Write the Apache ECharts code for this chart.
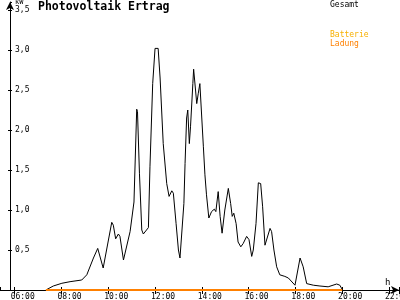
<!DOCTYPE html>
<html><head><meta charset="utf-8">
<script src="https://cdn.jsdelivr.net/npm/echarts@6/dist/echarts.min.js"></script>
<style>html,body{margin:0;padding:0;background:#fff}#c{width:400px;height:300px}</style>
</head><body><div id="c"></div>
<script>
const times = ['07:20','07:39','08:01','08:22','08:52','09:05','09:22','09:33','09:37','09:47','09:52',
 '10:09','10:13','10:19','10:26','10:30','10:39','10:56','11:00','11:06','11:13','11:15','11:20','11:26','11:30','11:43','11:47','11:54',
 '12:00','12:08','12:13','12:21','12:30','12:36','12:43','12:47','12:54','13:00','13:04','13:07','13:14','13:17','13:21','13:24','13:28','13:31','13:37','13:39','13:42','13:47','13:51','13:55',
 '14:00','14:04','14:08','14:12','14:18','14:25','14:32','14:36','14:42','14:47','14:52','14:59','15:08','15:14','15:18','15:22','15:28','15:33','15:40','15:46','15:55',
 '16:01','16:08','16:12','16:19','16:25','16:31','16:36','16:42','16:46','16:55','16:59','17:05','17:12','17:20','17:33','17:42','17:59',
 '18:03','18:12','18:16','18:20','18:29','18:46','19:03','19:24','19:46','19:54','20:01'];
const gesamt = [0,0.05,0.084,0.104,0.125,0.19,0.40,0.52,0.51,0.275,0.29,
 0.846,0.81,0.64,0.70,0.67,0.375,0.73,0.74,1.10,2.26,2.23,1.46,0.75,0.70,0.78,1.54,2.58,
 3.02,3.02,2.65,1.83,1.33,1.17,1.24,1.21,0.83,0.50,0.40,0.40,1.08,1.58,2.15,2.25,1.83,2.04,2.58,2.76,2.60,2.33,2.46,2.58,
 2.59,1.79,1.44,1.19,0.90,0.98,1.01,0.98,1.23,0.92,0.71,1.00,1.27,1.08,0.92,0.96,0.83,0.60,0.54,0.58,0.67,
 0.63,0.42,0.50,0.83,1.34,1.33,1.04,0.56,0.58,0.77,0.73,0.50,0.29,0.19,0.17,0.15,0.06,
 0.08,0.40,0.40,0.29,0.08,0.06,0.05,0.04,0.075,0.06,0];
const ladungTimes = ['07:20','20:00'];
const ladung = [0,0];
const batterieTimes = [];
const batterie = [];
const xTickLabels = ['06:00','08:00','10:00','12:00','14:00','16:00','18:00','20:00','22:00'];
const yTickLabels = ['0,5','1,0','1,5','2,0','2,5','3,0','3,5'];

const toH = s => { const p = s.split(':'); return +p[0] + (+p[1]) / 60; };
const pairs = (t, v) => t.map((s, i) => [toH(s), v[i]]);
const FONT = 'DejaVu Sans Mono';
const xMin = 5.372, xMax = 22.43, yMax = 3.6;

const xLabel = v => { const s = String(Math.round(v)).padStart(2, '0') + ':00'; return xTickLabels.includes(s) && Math.abs(v - Math.round(v)) < 1e-6 ? s : ''; };
const yLabel = v => { const s = v.toFixed(1).replace('.', ','); return (yTickLabels.includes(s) && Math.abs(v * 2 - Math.round(v * 2)) < 1e-6) ? s : ''; };

const chart = echarts.init(document.getElementById('c'), null, {renderer: 'canvas'});
chart.setOption({
  animation: false,
  backgroundColor: '#fff',
  textStyle: {fontFamily: FONT},
  title: {text: 'Photovoltaik Ertrag', left: 38, top: 1, padding: 0,
    textStyle: {fontFamily: FONT, fontSize: 11.5, fontWeight: 'bold', color: '#000'}},
  legend: [
    {data: [{name: 'Gesamt', textStyle: {color: '#000'}}], left: 325, top: 0.5, icon: 'none', itemWidth: 0, itemHeight: 8,
      padding: 0, selectedMode: false, textStyle: {fontFamily: FONT, fontSize: 8}},
    {data: [{name: 'Batterie', textStyle: {color: '#F7B000'}}, {name: 'Ladung', textStyle: {color: '#FF8000'}}],
      orient: 'vertical', left: 325, top: 31, icon: 'none', itemWidth: 0, itemHeight: 8, itemGap: 1,
      padding: 0, selectedMode: false, textStyle: {fontFamily: FONT, fontSize: 8}}
  ],
  grid: {left: 0, right: 1, top: 2, bottom: 10, containLabel: false, outerBoundsMode: 'none'},
  xAxis: [
    {type: 'value', min: xMin, max: xMax, minInterval: 2, maxInterval: 2, splitLine: {show: false},
      name: 'h', nameLocation: 'end', nameGap: -14,
      nameTextStyle: {fontFamily: FONT, fontSize: 9, color: '#000', verticalAlign: 'bottom', align: 'left', padding: [0, 0, 3, 0]},
      axisLine: {lineStyle: {color: '#000', width: 1}, symbol: ['none', 'arrow'], symbolSize: [6, 8]},
      axisTick: {show: true, length: 4, lineStyle: {color: '#000'}},
      axisLabel: {formatter: xLabel, showMinLabel: false, showMaxLabel: true, fontFamily: FONT, fontSize: 8, color: '#000', margin: 3,
        align: 'center', padding: [0, 0, 0, 16], hideOverlap: false}},
    {type: 'value', min: xMin, max: xMax, minInterval: 2, maxInterval: 2, splitLine: {show: false},
      position: 'bottom', axisLine: {show: false}, axisLabel: {show: false},
      axisTick: {show: true, inside: true, length: 3, lineStyle: {color: '#000'}}}
  ],
  yAxis: [
    {type: 'value', min: 0, max: yMax, minInterval: 0.5, maxInterval: 0.5, offset: -10, splitLine: {show: false},
      name: 'kW', nameLocation: 'end', nameGap: -2,
      nameTextStyle: {fontFamily: FONT, fontSize: 7, color: '#000', align: 'left', verticalAlign: 'middle', padding: [0, 0, 0, 5]},
      axisLine: {lineStyle: {color: '#000', width: 1}, symbol: ['none', 'arrow'], symbolSize: [6, 8]},
      axisTick: {show: true, length: 2, lineStyle: {color: '#000'}},
      axisLabel: {formatter: yLabel, inside: true, margin: 5, showMinLabel: false, showMaxLabel: false,
        fontFamily: FONT, fontSize: 8, color: '#000', verticalAlign: 'middle'}},
    {type: 'value', min: 0, max: yMax, minInterval: 0.5, maxInterval: 0.5, offset: -10, position: 'left', splitLine: {show: false},
      axisLine: {show: false}, axisLabel: {show: false},
      axisTick: {show: true, inside: true, length: 2, lineStyle: {color: '#000'}}}
  ],
  series: [
    {name: 'Gesamt', type: 'line', data: pairs(times, gesamt), showSymbol: false, symbol: 'none',
      lineStyle: {color: '#000', width: 1}, itemStyle: {color: '#000'}, z: 3},
    {name: 'Batterie', type: 'line', data: pairs(batterieTimes, batterie), showSymbol: false, symbol: 'none',
      lineStyle: {color: '#F7B000', width: 2}, itemStyle: {color: '#F7B000'}, z: 4},
    {name: 'Ladung', type: 'line', data: pairs(ladungTimes, ladung), showSymbol: false, symbol: 'none',
      lineStyle: {color: '#FF8000', width: 2}, itemStyle: {color: '#FF8000'}, z: 5}
  ]
});
</script></body></html>
